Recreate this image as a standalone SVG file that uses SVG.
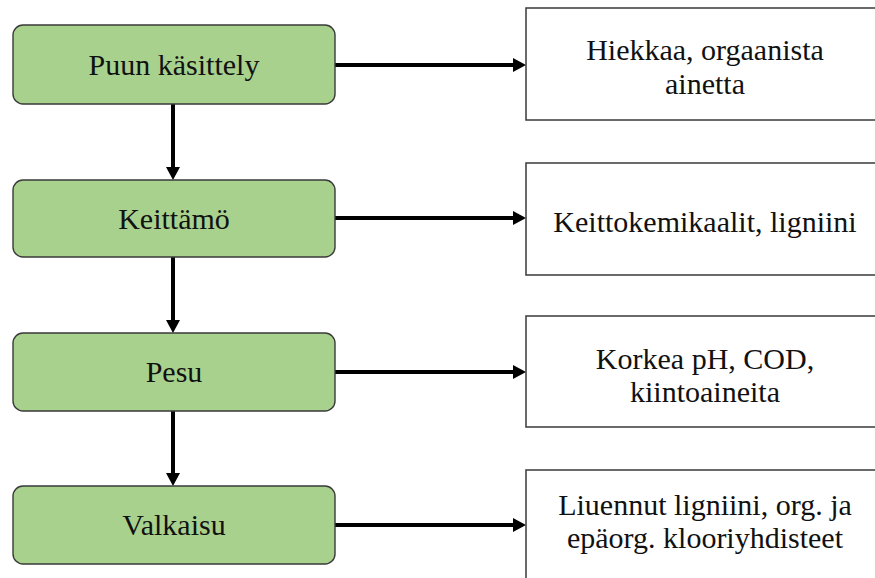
<svg xmlns="http://www.w3.org/2000/svg" width="875" height="578" viewBox="0 0 875 578">
<style>
.step{fill:#a9d18e;stroke:#3a3a3a;stroke-width:1.4}
.out{fill:#fff;stroke:#3a3a3a;stroke-width:1.5}
.lbl{font-family:'Liberation Serif','Times New Roman',Times,'Noto Serif','DejaVu Serif',serif;font-size:30px;fill:#111;text-anchor:middle}
.conn{stroke:#000;stroke-width:4;fill:none}
</style>
<defs>
<marker id="ah" markerUnits="userSpaceOnUse" markerWidth="13" markerHeight="14" refX="3" refY="7" orient="auto">
<path d="M0,0 L13,7 L0,14 z" fill="#000"/>
</marker>
</defs>
<rect width="875" height="578" fill="#fff"/>
<g id="connectors">
<line class="conn" x1="335" y1="65" x2="516" y2="65" marker-end="url(#ah)"/>
<line class="conn" x1="335" y1="218" x2="516" y2="218" marker-end="url(#ah)"/>
<line class="conn" x1="335" y1="372" x2="516" y2="372" marker-end="url(#ah)"/>
<line class="conn" x1="335" y1="525" x2="516" y2="525" marker-end="url(#ah)"/>
<line class="conn" x1="173" y1="104" x2="173" y2="170" marker-end="url(#ah)"/>
<line class="conn" x1="173" y1="257" x2="173" y2="323" marker-end="url(#ah)"/>
<line class="conn" x1="173" y1="411" x2="173" y2="476" marker-end="url(#ah)"/>
</g>
<g id="puun">
<rect class="step" x="13" y="25" width="322" height="79" rx="10"/>
<text class="lbl" x="174" y="75" font-family="Liberation Serif, serif">Puun käsittely</text>
</g>
<g id="keittamo">
<rect class="step" x="13" y="180" width="322" height="77" rx="10"/>
<text class="lbl" x="174" y="229">Keittämö</text>
</g>
<g id="pesu">
<rect class="step" x="13" y="333" width="322" height="78" rx="10"/>
<text class="lbl" x="174" y="382">Pesu</text>
</g>
<g id="valkaisu">
<rect class="step" x="13" y="486" width="322" height="78" rx="10"/>
<text class="lbl" x="174" y="535">Valkaisu</text>
</g>
<g id="out1">
<rect class="out" x="526" y="8" width="360" height="112"/>
<text class="lbl" x="705" y="60">Hiekkaa, orgaanista</text>
<text class="lbl" x="705" y="94">ainetta</text>
</g>
<g id="out2">
<rect class="out" x="526" y="163" width="360" height="112"/>
<text class="lbl" x="705" y="232">Keittokemikaalit, ligniini</text>
</g>
<g id="out3">
<rect class="out" x="526" y="316" width="360" height="111"/>
<text class="lbl" x="705" y="369">Korkea pH, COD,</text>
<text class="lbl" x="705" y="402">kiintoaineita</text>
</g>
<g id="out4">
<rect class="out" x="526" y="470" width="360" height="120"/>
<text class="lbl" x="705" y="515">Liuennut ligniini, org. ja</text>
<text class="lbl" x="705" y="548">epäorg. klooriyhdisteet</text>
</g>
</svg>
